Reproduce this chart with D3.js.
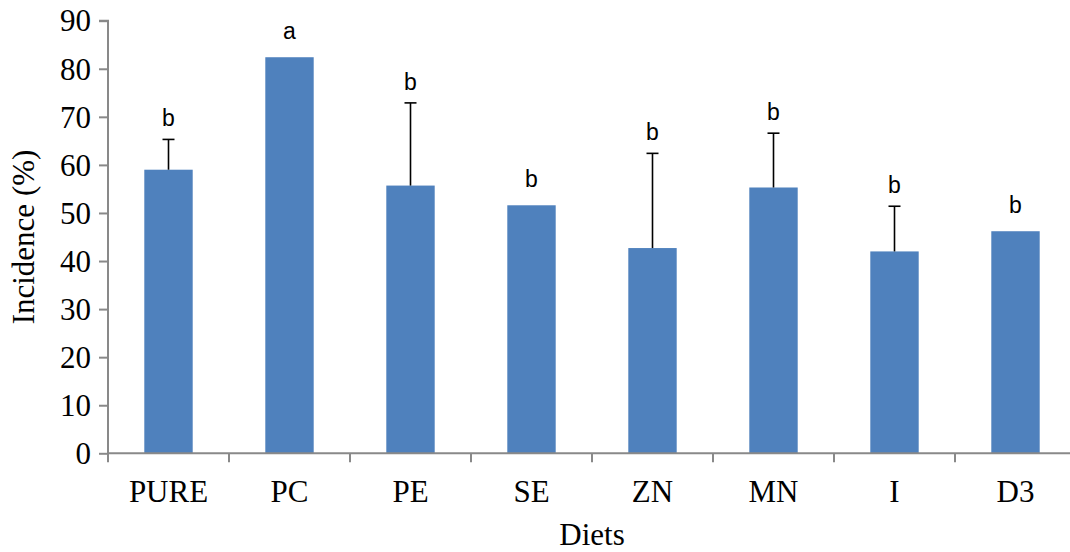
<!DOCTYPE html>
<html><head><meta charset="utf-8">
<script src="https://cdn.jsdelivr.net/npm/d3@7"></script>
<style>body{margin:0;background:#fff}svg{display:block}</style>
</head><body>
<svg id="c" width="1070" height="552"></svg>
<script>
const categories = ["PURE","PC","PE","SE","ZN","MN","I","D3"];
const values = [59.0, 82.4, 55.7, 51.6, 42.7, 55.3, 42.0, 46.2];
const errors = [6.3, 0, 17.2, 0, 19.7, 11.3, 9.4, 0];
const letters = ["b","a","b","b","b","b","b","b"];
const yTicks = [0,10,20,30,40,50,60,70,80,90];

const svg = d3.select("#c");
const mLeft = 108, mRight = 1076, mTop = 20.7, mBottom = 453.3;
const x = d3.scaleBand().domain(categories).range([mLeft, mRight]).paddingInner(0).paddingOuter(0);
const y = d3.scaleLinear().domain([0, 90]).range([mBottom, mTop]);
const axisColor = "#898989";
const serif = "'Liberation Serif','Times New Roman',serif";

// y axis
const ya = svg.append("g").attr("transform", `translate(${mLeft},0)`)
  .call(d3.axisLeft(y).tickValues(yTicks).tickSize(9).tickPadding(8).tickFormat(d3.format("d")));
ya.select(".domain").attr("stroke", axisColor).attr("stroke-width", 2).attr("d", `M-9,${y(90)}H0V${y(0)}`);
ya.selectAll(".tick line").attr("stroke", axisColor).attr("stroke-width", 2);
ya.selectAll(".tick text").attr("font-family", serif).attr("font-size", 31).attr("fill", "#000").attr("dy", "0.33em");

// bars
const bw = x.bandwidth() * 0.4;
svg.append("g").selectAll("rect").data(categories).join("rect")
  .attr("x", (d) => x(d) + x.bandwidth()/2 - bw/2)
  .attr("y", (d,i) => y(values[i]))
  .attr("width", bw)
  .attr("height", (d,i) => y(0) - y(values[i]))
  .attr("fill", "#4F81BD");

// error bars
const eg = svg.append("g").attr("stroke", "#000").attr("stroke-width", 1.6);
categories.forEach((c, i) => {
  if (!errors[i]) return;
  const cx = x(c) + x.bandwidth()/2;
  eg.append("line").attr("x1", cx).attr("x2", cx).attr("y1", y(values[i])).attr("y2", y(values[i] + errors[i]));
  eg.append("line").attr("x1", cx - 6).attr("x2", cx + 6).attr("y1", y(values[i] + errors[i])).attr("y2", y(values[i] + errors[i]));
});

// letters
svg.append("g").selectAll("text").data(categories).join("text")
  .attr("x", (d) => x(d) + x.bandwidth()/2)
  .attr("y", (d,i) => y(values[i] + errors[i]) - (errors[i] ? 13 : 18.5))
  .attr("text-anchor", "middle")
  .attr("font-family", "'Liberation Sans',Arial,sans-serif")
  .attr("font-size", 23)
  .attr("fill", "#000")
  .text((d,i) => letters[i]);

// x axis
const xa = svg.append("g").attr("transform", `translate(0,${mBottom})`)
  .call(d3.axisBottom(x).tickSize(0).tickPadding(0));
xa.select(".domain").attr("stroke", axisColor).attr("stroke-width", 2).attr("d", `M${mLeft},0H${mRight}`);
xa.selectAll(".tick line").remove();
xa.selectAll(".tick text").attr("font-family", serif).attr("font-size", 31).attr("fill", "#000").attr("dy", null).attr("y", 49);
const bounds = categories.map(c => x(c));
xa.selectAll("line.bt").data(bounds).join("line").attr("class","bt")
  .attr("x1", d => d).attr("x2", d => d).attr("y1", 0).attr("y2", 9)
  .attr("stroke", axisColor).attr("stroke-width", 2);

// titles
svg.append("text").attr("x", (mLeft + mRight)/2).attr("y", 545).attr("text-anchor", "middle")
  .attr("font-family", serif).attr("font-size", 31).attr("fill", "#000").text("Diets");
svg.append("text").attr("transform", `translate(34,${(mTop+mBottom)/2}) rotate(-90)`).attr("text-anchor", "middle")
  .attr("font-family", serif).attr("font-size", 31).attr("fill", "#000").text("Incidence (%)");
</script>
</body></html>
